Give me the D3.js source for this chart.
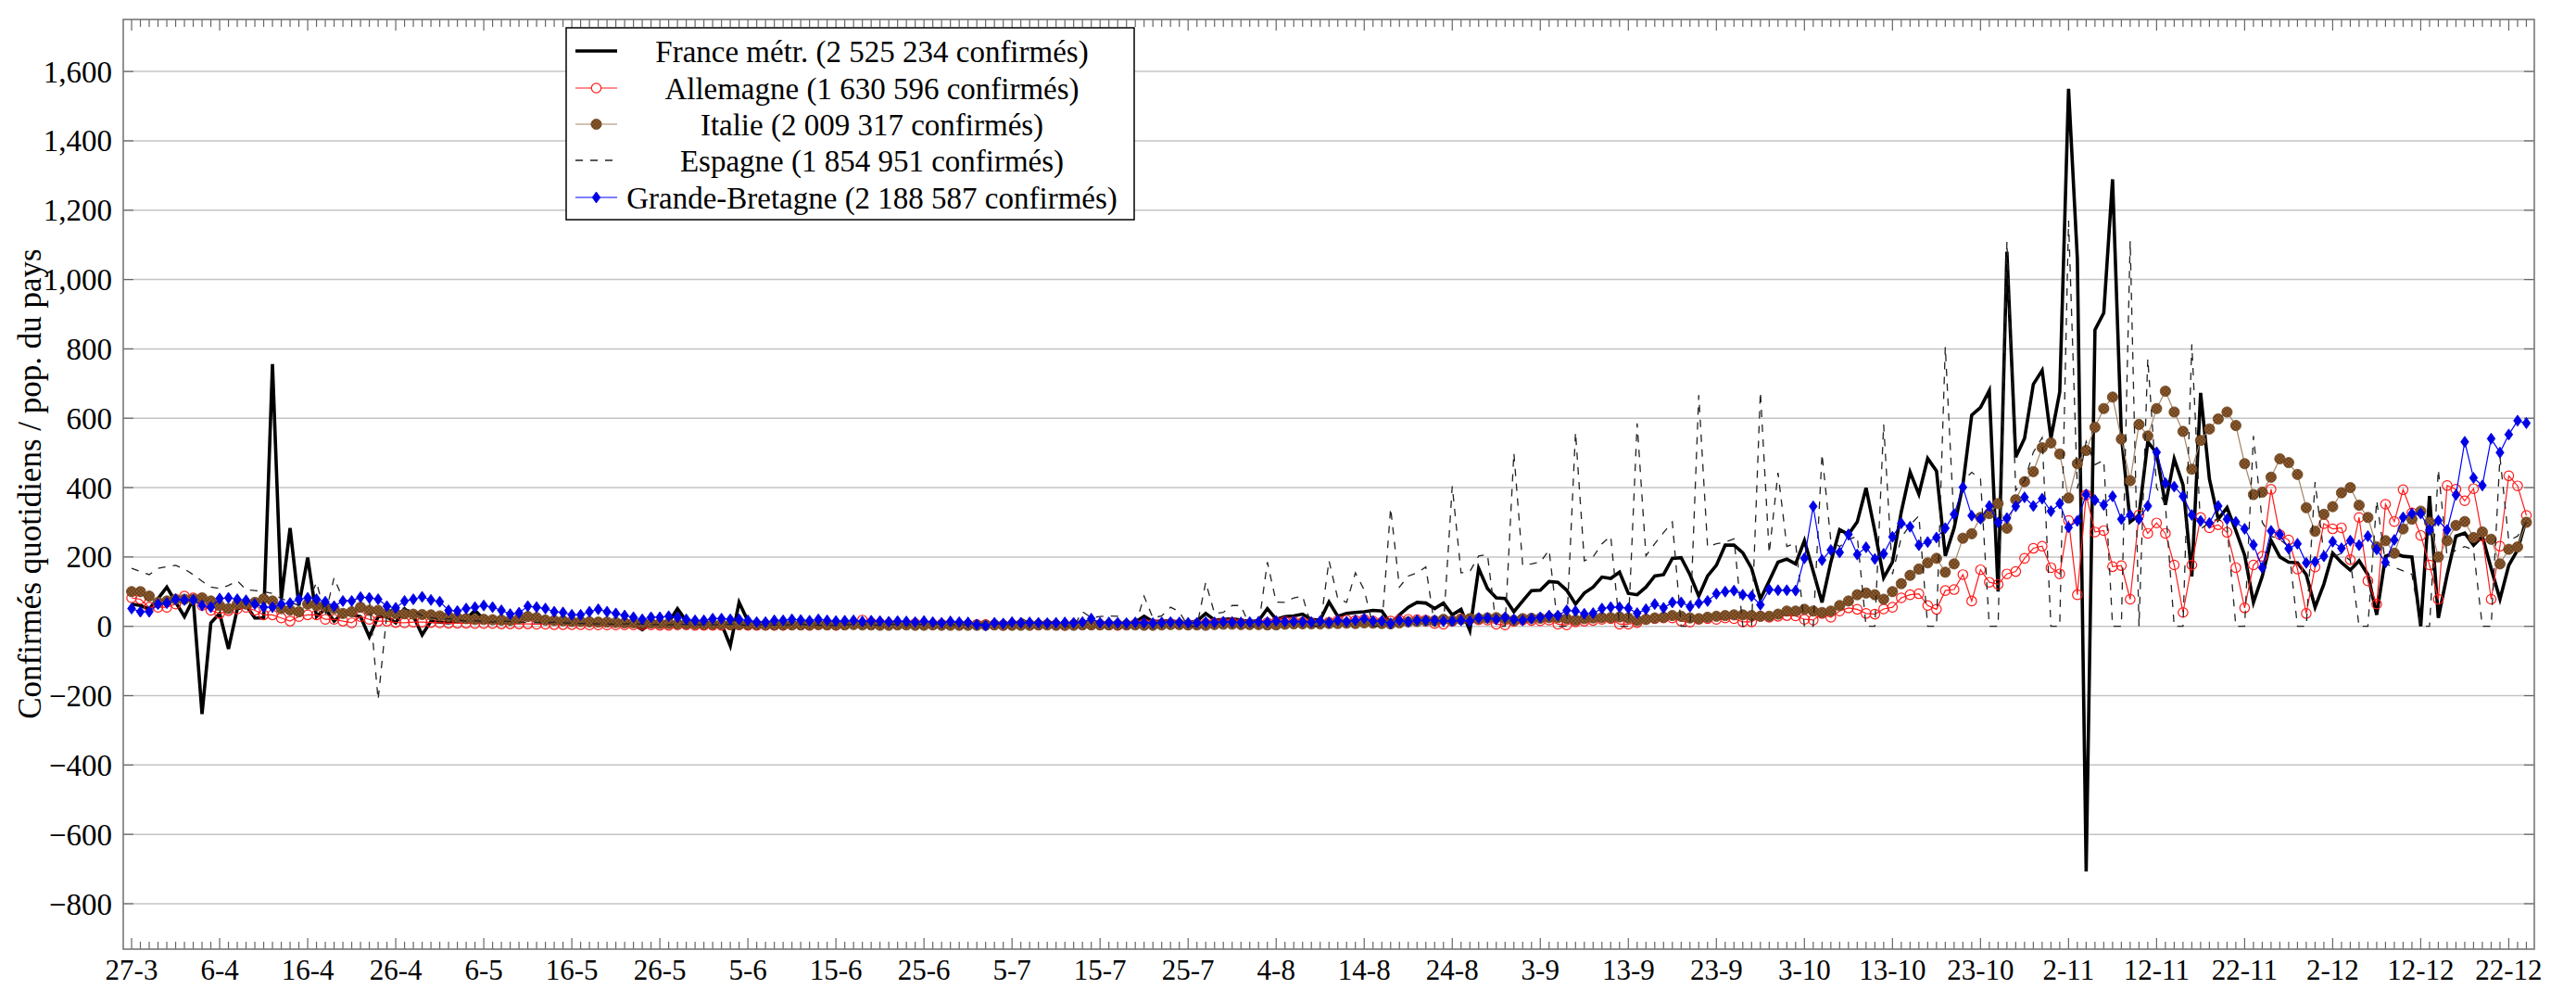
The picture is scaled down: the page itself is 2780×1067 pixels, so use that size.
<!DOCTYPE html>
<meta charset="utf-8">
<style>
body { margin: 0; background: #fff; }
svg { font-family: "Liberation Serif", "DejaVu Serif", serif; }
.grid line { stroke: #c4c4c4; stroke-width: 1.5; }
.frame { fill: none; stroke: #777; stroke-width: 1.6; }
.tick { stroke: #666; stroke-width: 1.2; }
</style>
<svg width="2780" height="1067"></svg>
<script src="https://cdn.jsdelivr.net/npm/d3@7"></script>
<script>

// one value per day, starting 27-3
var xTickLabels = ["27-3","6-4","16-4","26-4","6-5","16-5","26-5","5-6","15-6","25-6","5-7","15-7","25-7","4-8",
  "14-8","24-8","3-9","13-9","23-9","3-10","13-10","23-10","2-11","12-11","22-11","2-12","12-12","22-12"];
var yTicks = [-800,-600,-400,-200,0,200,400,600,800,1000,1200,1400,1600];
var legendLabels = ["France métr. (2 525 234 confirmés)","Allemagne (1 630 596 confirmés)",
  "Italie (2 009 317 confirmés)","Espagne (1 854 951 confirmés)","Grande-Bretagne (2 188 587 confirmés)"];

var france = [
64,60,50,80,113,70,28,78,-253,10, 37,-65,50,60,24,24,756,78,283,60, 198,28,50,15,37,33,28,-30,28,28, 10,50,30,
-25,15,12,10,14,20,46,20,12,10, 15,12,35,15,12,10,8,14,10,12, 8,7,10,9,6,-10,8,10,12,51, 15,10,8,9,7,-56,69,
15,8,6,10,8,5,9,8,6,7, 5,7,6,8,7,5,4,7,8,6, 7,5,4,8,9,6,8,9,5,4, 10,12,8,10,9,6,5,10,12,14, 10,8,6,9,12,29,14,15,16,12, 10,15,37,18,20,22,18,14,16,51, 20,28,30,35,20,18,
70,29,37,40,42,46,44,8,33,55, 69,67,51,67,33,49,-12,167,109,82, 80,42,73,103,104,129,127,104,64,96, 113,142,138,156,95,91,
113,145,149,196,198,149,87,145,176,234, 234,212,167,78,131,185,194,180,247,158, 69,185,279,265,301,399,274,140,
185,330,445,381,484,448,203,283,408,609, 631,680,100,1080,488,542,698,738,542,676, 1550,
1060,-707,855,904,1289,549,301,321,532,499, 350,483,408,144,673,425,309,342,276,205, 69,144,248,200,185,
183,149,55,122,211,184,162,189,149,33, 202,211,202,200,0,376,24,149,260,269, 234,260,167,78,176,220,309];

var allemagne = [
82,78,55,55,55,64,87,82,60,46, 37,45,50,55,46,33,33,24,15,28, 33,33,20,20,15,10,28,20,15,15, 11,10,12,
12,11,10,9,9,9,8,8,8,7, 7,7,7,6,6,5,5,5,5,4, 4,4,4,4,4,4,4,3,3,4, 4,3,3,3,3,4,4,3,3,3, 3,
3,4,4,3,5,4,3,5,7,18, 10,8,7,6,6,8,6,5,6,5, 4,5,5,5,4,3,5,5,4,4, 5,4,3,5,6,5,5,4,3,4, 6,7,6,7,8,6,4,6,8,9, 10,11,8,6,7,10,12,14,13,12, 9,8,
12,16,18,17,20,15,12,15,18,20, 19,18,8,6,15,22,20,19,18,6, 4,14,18,17,16,18,6,4,13,15, 17,20,22,6,6,
11,20,22,24,24,15,12,20,22,20, 24,22,13,13,29,26,29,31,30,20, 18,37,26,44,53,49,37,35,50,
55,82,91,94,60,49,103,106,149,73, 163,127,121,151,158,196,225,231,169,151, 305,91,379,272,
276,172,175,78,321,268,298,268,177,40, 177,314,284,293,271,169,53,177,202,
395,264,249,165,37,171,296,281,284,192, 314,131,64,352,302,394,327,262,177,78, 406,395,362,397,260,78,231,434,405,320];

var italie = [
100,100,87,69,73,78,78,78,82,73, 60,51,64,64,69,79,73,51,47,42, 64,60,55,51,37,42,55,46,46,37, 37,36,35,
34,33,30,28,25,22,20,20,19,18, 17,22,28,25,18,17,16,14,14,13, 12,12,11,10,10,9,9,8,8,7, 7,7,6,6,6,5,5,5,5,4, 4,4,
4,4,4,5,4,4,4,5,4,4, 3,3,4,4,3,3,4,3,3,3, 3,3,3,4,3,3,3,3,4,4, 3,3,3,4,4,4,4,4,4,4, 3,3,4,5,5,4,4,3,5,6, 6,5,5,5,4,4,6,7,7,7, 7,8,
8,9,8,10,9,8,7,10,13,14, 15,16,20,16,20,22,22,24,25,22, 17,22,23,23,25,25,22,18,22,24, 25,25,27,
24,17,20,24,26,31,29,24,22,26, 29,31,33,33,31,29,29,35,44,44, 49,44,40,44,60,73,91,96,91,78,
100,123,147,165,183,196,156,180,254,267, 314,325,354,283,365,417,446,515,529,497, 370,
469,507,574,628,661,540,420,582,549,628, 678,618,562,453,536,569,598,618,579,469, 380,387,
430,483,472,438,342,274,323,345,385,400, 349,314,229,247,211,281,309,332,300,200, 247,291,302,256,272,251,180,222,229,300];

var espagne = [
167,158,149,167,172,176,165,149,130,113, 109,118,131,106,103,100,95,80,70,60, 65,127,33,140,78,70,87,78,-212,37, 60,50,45,
30,25,20,22,18,15,16,14,12,15, 14,12,11,10,9,12,10,9,8,8, 7,7,6,7,8,6,5,5,4,5, 6,5,4,4,5,6,4,3,4,5, 4,3,
5,6,4,3,2,3,4,5,6,4, 3,5,6,5,4,6,7,6,5,4,
5,6,7,8,5,4,24,10,12,11, 14,0,0,42,25,28,30,29,0,0,
87,24,30,55,42,0,0,127,37,40, 60,60,0,0,185,70,69,82,87,0, 0,189,
80,69,154,105,0,0,341,113,145,154, 171,0,0,404,154,158,203,207,0,0, 500,176,180,185,220,0,0,560,189,200, 238,260,0,0,585,
203,238,270,301,0,0,667,229,238,243, 252,0,0,676,210,443,230,240,0,0, 497,247,230,250,260,0,0,582,
150,256,292,319,0,0,806,295,420,444, 425,0,0,1110,392,420,502,544,0,0, 1170,
397,533,466,479,0,0,1111,0,772,400, 350,0,0,813,280,300,310,290,0,0, 549,300,260,250,230,
0,0,416,210,200,210,190,0,0,363, 180,170,160,150,0,0,452,200,220,230, 220,0,0,488,247,260,300];

var bretagne = [
51,42,42,64,67,78,76,76,60,55, 80,82,78,75,64,55,55,64,67,78, 82,78,71,58,73,73,84,82,78,58, 53,73,78,
85,76,71,46,44,51,55,60,55,46, 35,39,58,55,51,42,40,33,33,42, 49,42,37,31,26,20,26,26,29,26, 20,17,17,22,22,20,20,17,12,12, 17,17,
20,18,16,20,17,15,16,17,14,16, 15,13,15,14,12,15,12,10,14,12, 11,5,2,10,8,12,10,11,10,9, 10,
11,10,12,22,10,11,10,9,11,10, 9,11,12,11,10,10,12,11,13,12, 11,12,13,12,15,13,14,13,12,15,
11,17,13,17,22,15,15,8,17,13, 17,17,17,15,15,17,15,24,24,20, 26,20,17,22,26,31,31,46,44,36, 38,51,55,55,
52,38,49,64,53,69,69,57,67,73, 94,100,103,91,87,62,106,104,104,103, 196,346,191,220,213,265,207,228,194,209,
258,297,287,234,243,256,283,323,401,319, 310,347,299,312,346,372,347,368,332,354, 285,
304,380,364,350,375,309,321,309,347,502, 413,403,375,321,304,298,347,309,301,281, 235,169,
275,265,224,238,183,186,202,244,225,247, 234,260,222,184,249,314,325,325,278,305, 278,379,532,428,406,541,501,553,593,586];

var svg = d3.select("svg");
var pLeft = 133, pRight = 2735, pTop = 21, pBottom = 1024;

var x = d3.scaleLinear().domain([-0.95, 272.9]).range([pLeft, pRight]);
var y = d3.scaleLinear().domain([-931, 1750]).range([pBottom, pTop]);

var defs = svg.append("defs");
var hatch = defs.append("pattern").attr("id", "hatch").attr("patternUnits", "userSpaceOnUse")
    .attr("width", 4).attr("height", 4);
hatch.append("rect").attr("width", 4).attr("height", 4).attr("fill", "#8c5a2e");
hatch.append("path").attr("d", "M0,0L4,4M4,0L0,4").attr("stroke", "#5e3a18").attr("stroke-width", 0.7);
defs.append("clipPath").attr("id", "clip").append("rect")
    .attr("x", pLeft).attr("y", pTop).attr("width", pRight - pLeft).attr("height", pBottom - pTop);

// grid
svg.append("g").attr("class", "grid").selectAll("line").data(yTicks).enter().append("line")
    .attr("x1", pLeft).attr("x2", pRight).attr("y1", function(d) { return y(d); }).attr("y2", function(d) { return y(d); });

// ticks on the frame
var days = d3.range(0, 273);
var ticks = svg.append("g");
days.forEach(function(d) {
  var len = d % 10 == 0 ? 12 : 8;
  ticks.append("line").attr("class", "tick").attr("x1", x(d)).attr("x2", x(d)).attr("y1", pBottom).attr("y2", pBottom - len);
  ticks.append("line").attr("class", "tick").attr("x1", x(d)).attr("x2", x(d)).attr("y1", pTop).attr("y2", pTop + len);
});
yTicks.forEach(function(v) {
  ticks.append("line").attr("class", "tick").attr("x1", pLeft).attr("x2", pLeft + 11).attr("y1", y(v)).attr("y2", y(v));
  ticks.append("line").attr("class", "tick").attr("x1", pRight).attr("x2", pRight - 11).attr("y1", y(v)).attr("y2", y(v));
});

svg.append("g").selectAll("text").data(xTickLabels).enter().append("text")
    .attr("x", function(d, i) { return x(i * 10); }).attr("y", 1057)
    .attr("text-anchor", "middle").style("font-size", "31px").text(function(d) { return d; });

var fmt = d3.format(",");
svg.append("g").selectAll("text").data(yTicks).enter().append("text")
    .attr("x", 121).attr("y", function(d) { return y(d); }).attr("dy", "0.35em")
    .attr("text-anchor", "end").style("font-size", "33px").text(function(d) { return fmt(d); });

svg.append("text").attr("transform", "translate(44,522) rotate(-90)")
    .attr("text-anchor", "middle").style("font-size", "35px")
    .text("Confirmés quotidiens / pop. du pays");

// series
var line = d3.line().x(function(d, i) { return x(i); }).y(function(d) { return y(d); });
var plot = svg.append("g").attr("clip-path", "url(#clip)");

function diamond(g) {
  g.attr("d", "M0,-6L4.3,0L0,6L-4.3,0Z").attr("fill", "#0000e6").attr("stroke", "#0000e6").attr("stroke-width", 0.8);
}

plot.append("path").datum(france).attr("d", line)
    .attr("fill", "none").attr("stroke", "#000").attr("stroke-width", 3.6).attr("stroke-linejoin", "miter");

plot.append("path").datum(allemagne).attr("d", line)
    .attr("fill", "none").attr("stroke", "#ff1a1a").attr("stroke-width", 1.2);
plot.append("g").selectAll("circle").data(allemagne).enter().append("circle")
    .attr("cx", function(d, i) { return x(i); }).attr("cy", function(d) { return y(d); })
    .attr("r", 5.2).attr("fill", "none").attr("stroke", "#ff1a1a").attr("stroke-width", 1.2);

plot.append("path").datum(italie).attr("d", line)
    .attr("fill", "none").attr("stroke", "#a58466").attr("stroke-width", 1.2);
plot.append("g").selectAll("circle").data(italie).enter().append("circle")
    .attr("cx", function(d, i) { return x(i); }).attr("cy", function(d) { return y(d); })
    .attr("r", 5.6).attr("fill", "url(#hatch)").attr("stroke", "#6e4520").attr("stroke-width", 0.8);

plot.append("path").datum(espagne).attr("d", line)
    .attr("fill", "none").attr("stroke", "#222").attr("stroke-width", 1.3).attr("stroke-dasharray", "8,8");

plot.append("path").datum(bretagne).attr("d", line)
    .attr("fill", "none").attr("stroke", "#0000ff").attr("stroke-width", 1.2);
plot.append("g").selectAll("path").data(bretagne).enter().append("path")
    .attr("transform", function(d, i) { return "translate(" + x(i) + "," + y(d) + ")"; })
    .call(diamond);

svg.append("rect").attr("class", "frame").attr("x", pLeft).attr("y", pTop)
    .attr("width", pRight - pLeft).attr("height", pBottom - pTop);

// legend
var lg = svg.append("g");
lg.append("rect").attr("x", 611).attr("y", 30).attr("width", 613).attr("height", 207)
    .attr("fill", "#fff").attr("stroke", "#000").attr("stroke-width", 1.5);
var rowY = [55, 95, 134, 173, 213];
legendLabels.forEach(function(t, i) {
  lg.append("text").attr("x", 941).attr("y", rowY[i]).attr("dy", "0.35em")
      .attr("text-anchor", "middle").style("font-size", "33px").text(t);
});
lg.append("line").attr("x1", 621).attr("x2", 666).attr("y1", rowY[0]).attr("y2", rowY[0])
    .attr("stroke", "#000").attr("stroke-width", 3.6);
lg.append("line").attr("x1", 621).attr("x2", 666).attr("y1", rowY[1]).attr("y2", rowY[1])
    .attr("stroke", "#ff1a1a").attr("stroke-width", 1.2);
lg.append("circle").attr("cx", 643.5).attr("cy", rowY[1]).attr("r", 5.2)
    .attr("fill", "#fff").attr("stroke", "#ff1a1a").attr("stroke-width", 1.2);
lg.append("line").attr("x1", 621).attr("x2", 666).attr("y1", rowY[2]).attr("y2", rowY[2])
    .attr("stroke", "#a58466").attr("stroke-width", 1.2);
lg.append("circle").attr("cx", 643.5).attr("cy", rowY[2]).attr("r", 5.6)
    .attr("fill", "url(#hatch)").attr("stroke", "#6e4520").attr("stroke-width", 0.8);
lg.append("line").attr("x1", 621).attr("x2", 666).attr("y1", rowY[3]).attr("y2", rowY[3])
    .attr("stroke", "#222").attr("stroke-width", 1.3).attr("stroke-dasharray", "8,8");
lg.append("line").attr("x1", 621).attr("x2", 666).attr("y1", rowY[4]).attr("y2", rowY[4])
    .attr("stroke", "#0000ff").attr("stroke-width", 1.2);
lg.append("path").attr("transform", "translate(643.5," + rowY[4] + ")").call(diamond);

</script>
